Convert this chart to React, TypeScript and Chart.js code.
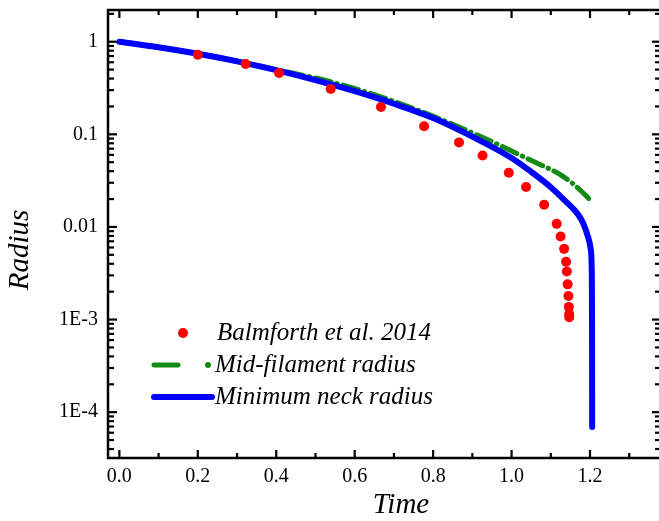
import React, { useEffect, useRef } from 'react';
import { Chart, registerables } from 'chart.js';

Chart.register(...registerables);

// ---- data ----
const balmforthTime = [0.2, 0.322, 0.407, 0.539, 0.667, 0.777, 0.866, 0.926, 0.993, 1.037, 1.083, 1.115, 1.125, 1.134, 1.139, 1.141, 1.143, 1.145, 1.146, 1.147, 1.147];
const balmforthRadius = [0.724, 0.574, 0.459, 0.308, 0.197, 0.122, 0.0818, 0.059, 0.0385, 0.027, 0.0174, 0.0108, 0.0079, 0.0058, 0.0042, 0.0033, 0.0024, 0.0018, 0.00137, 0.00115, 0.00106];

const midTime = [0, 0.1, 0.2, 0.3, 0.4, 0.538, 0.665, 0.79, 0.92, 1.047, 1.132, 1.175, 1.205];
const midRadius = [1, 0.871, 0.745, 0.62, 0.5, 0.37, 0.255, 0.163, 0.095, 0.053, 0.035, 0.025, 0.0187];

const neckTime = [0, 0.1, 0.2, 0.3, 0.4, 0.5, 0.6, 0.7, 0.8, 0.9, 1.0, 1.05, 1.1, 1.142, 1.167, 1.182, 1.195, 1.202, 1.2045, 1.2053, 1.2055];
const neckRadius = [1, 0.871, 0.741, 0.614, 0.493, 0.385, 0.292, 0.214, 0.15, 0.0944, 0.0556, 0.0394, 0.0269, 0.0182, 0.0141, 0.0111, 0.0078, 0.0057, 0.0032, 0.0006, 0.000069];

const seriesNames = ['Balmforth et al. 2014', 'Mid-filament radius', 'Minimum neck radius'];
const seriesColors = ['#ff0000', '#138a13', '#0000ff'];

const xTickValues = [0, 0.2, 0.4, 0.6, 0.8, 1.0, 1.2];
const xTickLabels = ['0.0', '0.2', '0.4', '0.6', '0.8', '1.0', '1.2'];
const xMinorTicks = [0.1, 0.3, 0.5, 0.7, 0.9, 1.1, 1.3];

const yTickValues = [1e-4, 1e-3, 0.01, 0.1, 1];
const yTickLabels = ['1E-4', '1E-3', '0.01', '0.1', '1'];

const xTitle = 'Time';
const yTitle = 'Radius';

const X_MIN = -0.029;
const X_MAX = 1.381;
const Y_MIN = 3.2e-5;
const Y_MAX = 2.2;

const FONT = "'Liberation Serif', 'Times New Roman', serif";

const near = (a: number, b: number) => Math.abs(a - b) <= Math.abs(b) * 1e-6 + 1e-12;
const labelFor = (vals: number[], labels: string[], v: number) => {
  const i = vals.findIndex((m) => near(v, m));
  return i >= 0 ? labels[i] : '';
};

function yAllTicks(): number[] {
  const out: number[] = [];
  for (let e = -5; e <= 0; e++) {
    for (let k = 1; k <= 9; k++) {
      const v = k * Math.pow(10, e);
      if (v >= Y_MIN && v <= Y_MAX) out.push(v);
    }
  }
  return out;
}

const framePlugin = {
  id: 'frameAndLegend',
  afterDatasetsDraw(chart: any) {
    const { ctx, chartArea: a, scales } = chart;
    const x = scales.x;
    const y = scales.y;
    ctx.save();
    ctx.strokeStyle = '#000';
    ctx.lineWidth = 2.5;
    ctx.strokeRect(a.left, a.top, a.right - a.left, a.bottom - a.top);
    ctx.lineWidth = 2.2;
    const seg = (x1: number, y1: number, x2: number, y2: number) => {
      ctx.beginPath();
      ctx.moveTo(x1, y1);
      ctx.lineTo(x2, y2);
      ctx.stroke();
    };
    x.ticks.forEach((t: any) => {
      const px = x.getPixelForValue(t.value);
      const major = xTickValues.some((m) => near(t.value, m));
      const len = major ? 8 : 5;
      seg(px, a.bottom, px, a.bottom - len);
      seg(px, a.top, px, a.top + len);
    });
    y.ticks.forEach((t: any) => {
      const py = y.getPixelForValue(t.value);
      const major = yTickValues.some((m) => near(t.value, m));
      const len = major ? 9 : 6;
      seg(a.left, py, a.left + len, py);
      seg(a.right, py, a.right - len, py);
    });

    // axis titles
    ctx.fillStyle = '#000';
    ctx.font = `italic 29px ${FONT}`;
    ctx.textAlign = 'center';
    ctx.textBaseline = 'alphabetic';
    ctx.fillText(xTitle, 401, 513);
    ctx.save();
    ctx.translate(28, 250);
    ctx.rotate(-Math.PI / 2);
    ctx.fillText(yTitle, 0, 0);
    ctx.restore();

    // legend
    const rows = [333, 365, 397];
    ctx.font = `italic 25px ${FONT}`;
    ctx.textAlign = 'left';
    ctx.textBaseline = 'middle';
    ctx.fillStyle = seriesColors[0];
    ctx.beginPath();
    ctx.arc(183, rows[0], 5, 0, Math.PI * 2);
    ctx.fill();
    ctx.strokeStyle = seriesColors[1];
    ctx.lineWidth = 5;
    ctx.lineCap = 'round';
    seg(154, rows[1], 178, rows[1]);
    ctx.fillStyle = seriesColors[1];
    ctx.beginPath();
    ctx.arc(208, rows[1], 3, 0, Math.PI * 2);
    ctx.fill();
    ctx.strokeStyle = seriesColors[2];
    ctx.lineWidth = 6;
    seg(154, rows[2], 212, rows[2]);
    ctx.fillStyle = '#000';
    ctx.fillText(seriesNames[0], 217, rows[0]);
    ctx.fillText(seriesNames[1], 215, rows[1]);
    ctx.fillText(seriesNames[2], 215, rows[2]);
    ctx.restore();
  },
};

export default function App() {
  const ref = useRef<HTMLCanvasElement | null>(null);

  useEffect(() => {
    if (!ref.current) return;
    const chart = new Chart(ref.current, {
      type: 'line',
      data: {
        datasets: [
          {
            label: seriesNames[0],
            data: balmforthTime.map((t, i) => ({ x: t, y: balmforthRadius[i] })),
            showLine: false,
            pointRadius: 5,
            pointHoverRadius: 5,
            pointBackgroundColor: seriesColors[0],
            pointBorderWidth: 0,
            borderColor: seriesColors[0],
            backgroundColor: seriesColors[0],
            order: 0,
          },
          {
            label: seriesNames[2],
            data: neckTime.map((t, i) => ({ x: t, y: neckRadius[i] })),
            borderColor: seriesColors[2],
            borderWidth: 6,
            borderCapStyle: 'round',
            pointRadius: 0,
            cubicInterpolationMode: 'monotone',
            fill: false,
            order: 1,
          },
          {
            label: seriesNames[1],
            data: midTime.map((t, i) => ({ x: t, y: midRadius[i] })),
            borderColor: seriesColors[1],
            borderWidth: 5,
            borderCapStyle: 'round',
            borderDash: [16, 6, 0.5, 6],
            pointRadius: 0,
            cubicInterpolationMode: 'monotone',
            fill: false,
            order: 2,
          },
        ],
      },
      options: {
        responsive: false,
        animation: false,
        devicePixelRatio: 1,
        layout: { padding: { left: 0, top: 10, right: 9, bottom: 0 } },
        plugins: { legend: { display: false }, tooltip: { enabled: false } },
        scales: {
          x: {
            type: 'linear',
            min: X_MIN,
            max: X_MAX,
            grid: { display: false, drawTicks: false },
            border: { display: false },
            afterBuildTicks: (s: any) => {
              s.ticks = [...xTickValues, ...xMinorTicks].sort((p, q) => p - q).map((v) => ({ value: v }));
            },
            afterFit: (s: any) => {
              s.height = 63;
              s.paddingLeft = 0;
              s.paddingRight = 0;
            },
            ticks: {
              autoSkip: false,
              maxRotation: 0,
              padding: 7,
              color: '#000',
              font: { family: FONT, size: 20 },
              callback: (v: any) => labelFor(xTickValues, xTickLabels, Number(v)),
            },
          },
          y: {
            type: 'logarithmic',
            min: Y_MIN,
            max: Y_MAX,
            grid: { display: false, drawTicks: false },
            border: { display: false },
            afterBuildTicks: (s: any) => {
              s.ticks = yAllTicks().map((v) => ({ value: v }));
            },
            afterFit: (s: any) => {
              s.width = 108;
              s.paddingTop = 0;
              s.paddingBottom = 0;
            },
            ticks: {
              autoSkip: false,
              padding: 10,
              color: '#000',
              font: { family: FONT, size: 20 },
              callback: (v: any) => labelFor(yTickValues, yTickLabels, Number(v)),
            },
          },
        },
      },
      plugins: [framePlugin],
    } as any);
    return () => chart.destroy();
  }, []);

  return (
    <div style={{ position: 'fixed', left: 0, top: 0, width: 659, height: 521, overflow: 'hidden', background: '#fff' }}>
      <canvas ref={ref} width={670} height={521} style={{ display: 'block', width: 670, height: 521 }} />
    </div>
  );
}
